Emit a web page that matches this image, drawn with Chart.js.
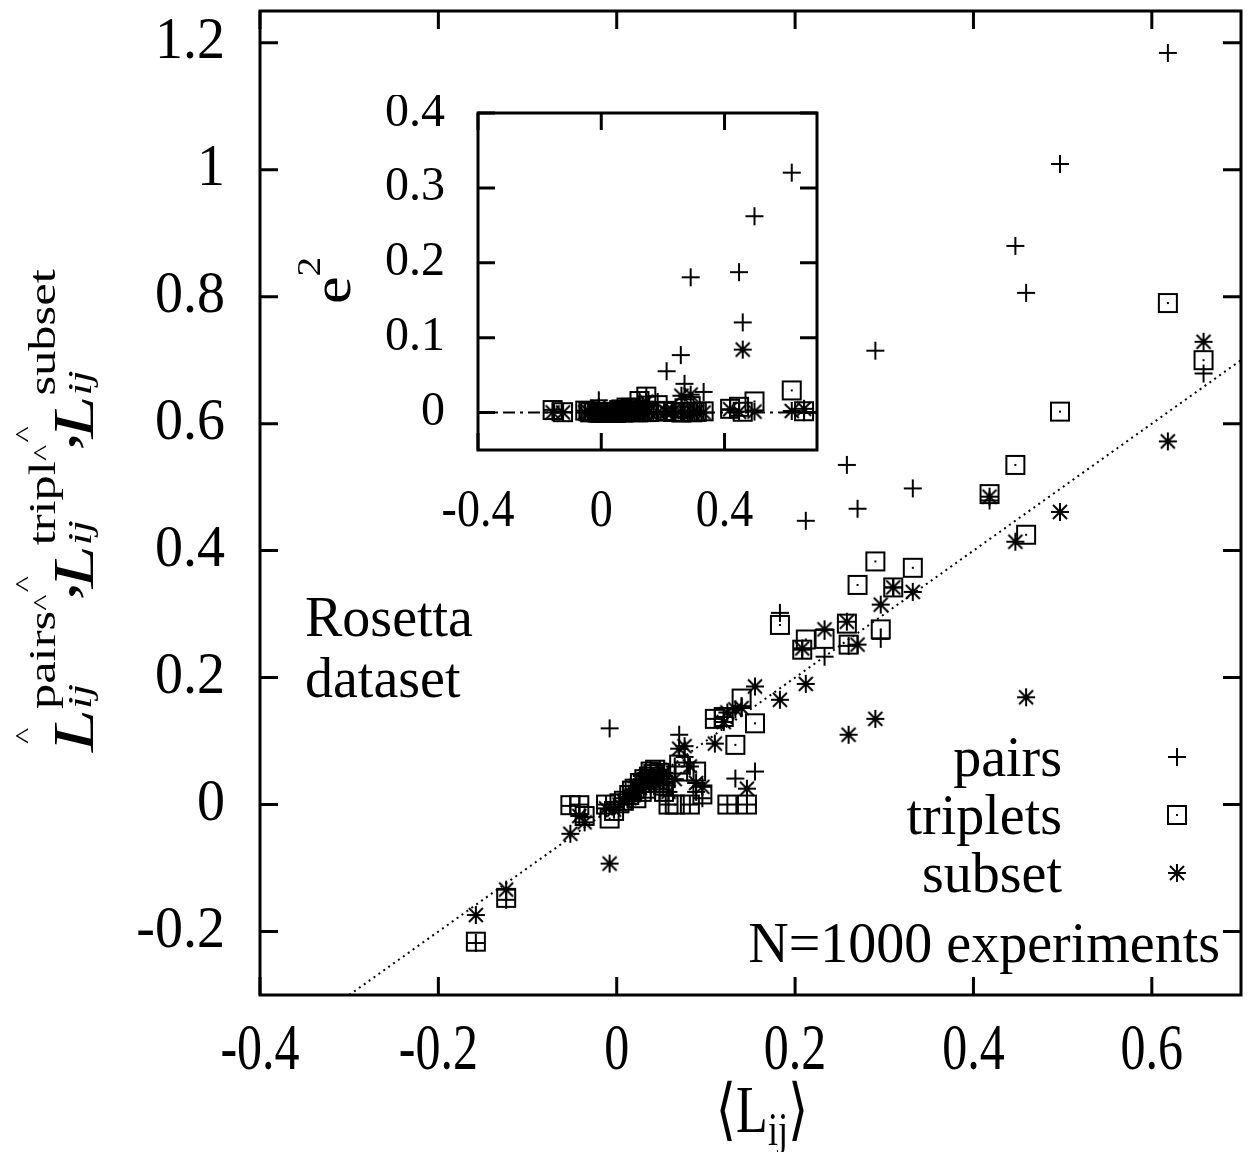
<!DOCTYPE html>
<html>
<head>
<meta charset="utf-8">
<script src="https://cdn.jsdelivr.net/npm/chart.js@4.4.1/dist/chart.umd.min.js"></script>
<style>
  body { margin: 0; background: #fff; }
  #wrap { position: relative; width: 1252px; height: 1152px; }
  #main { position: absolute; left: 0; top: 0; }
  #inset { position: absolute; left: 280px; top: 95px; }
</style>
</head>
<body>
<div id="wrap">
  <canvas id="main" width="1252" height="1152"></canvas>
  <canvas id="inset" width="550" height="460"></canvas>
</div>
<script>
// <L_ij> (mean over experiments) and the three estimates, one entry per couple i,j
const meanL = [-0.158, -0.124, -0.052, -0.042, -0.036, -0.012, -0.008, -0.003, 0.003, 0.008,
  0.014, 0.017, 0.020, 0.022, 0.026, 0.028, 0.031, 0.033, 0.036, 0.038,
  0.041, 0.043, 0.046, 0.048, 0.052, 0.053, 0.058, 0.065,
  0.070, 0.076, 0.082, 0.089, 0.096, 0.110, 0.120, 0.124, 0.133, 0.140,
  0.146, 0.155, 0.183, 0.208, 0.212, 0.233, 0.258, 0.260, 0.270, 0.290,
  0.296, 0.310, 0.332, 0.418, 0.447, 0.459, 0.497, 0.618, 0.658];
const pairsL = [-0.218, -0.150, -0.002, 0.000, -0.020, 0.000, 0.120, -0.004, 0.004, 0.010,
  0.012, 0.005, 0.020, 0.035, 0.028, 0.045, 0.036, 0.050, 0.042, 0.055,
  0.040, 0.030, 0.050, 0.020, 0.030, 0.045, 0.000, 0.060,
  0.110, 0.075, 0.000, 0.020, 0.010, 0.135, 0.138, 0.000, 0.041, 0.155,
  0.000, 0.052, 0.302, 0.244, 0.447, 0.233, 0.535, 0.250, 0.466, 0.715,
  0.261, 0.342, 0.498, 0.479, 0.880, 0.806, 1.009, 1.184, 0.679];
const tripletsL = [-0.216, -0.147, -0.001, -0.001, -0.018, 0.000, -0.022, -0.010, 0.002, 0.006,
  0.015, 0.022, 0.025, 0.010, 0.034, 0.020, 0.040, 0.025, 0.044, 0.052,
  0.048, 0.055, 0.038, 0.050, 0.030, 0.020, 0.000, 0.000,
  0.063, 0.052, 0.000, 0.052, 0.016, 0.135, 0.138, 0.000, 0.094, 0.167,
  0.000, 0.128, 0.283, 0.244, 0.260, 0.261, 0.285, 0.252, 0.346, 0.383,
  0.276, 0.342, 0.373, 0.489, 0.535, 0.425, 0.619, 0.790, 0.700];
const subsetL = [-0.174, -0.134, -0.046, -0.018, -0.028, -0.006, -0.093, -0.008, 0.000, 0.005,
  0.010, 0.015, 0.018, 0.030, 0.026, 0.040, 0.032, 0.045, 0.038, 0.030,
  0.044, 0.035, 0.046, 0.055, 0.036, 0.050, 0.020, 0.040,
  0.088, 0.092, 0.060, 0.034, 0.028, 0.096, 0.130, 0.145, 0.150, 0.152,
  0.025, 0.186, 0.165, 0.246, 0.190, 0.276, 0.288, 0.110, 0.252, 0.135,
  0.315, 0.342, 0.335, 0.485, 0.414, 0.169, 0.461, 0.572, 0.729];

const xTicks = [-0.4, -0.2, 0, 0.2, 0.4, 0.6];
const yTicks = [-0.2, 0, 0.2, 0.4, 0.6, 0.8, 1, 1.2];
const insetXTicks = [-0.4, 0, 0.4];
const insetYTicks = [0, 0.1, 0.2, 0.3, 0.4];
const diagonal = [-0.3, 0.7];      // y = x guide
const zeroLine = [-0.4, 0.7];      // e^2 = 0 guide in the inset

const serif = '"Liberation Serif", "DejaVu Serif", serif';

// gnuplot-like point types
function marker(kind) {
  const c = document.createElement('canvas');
  c.width = c.height = 24;
  const g = c.getContext('2d');
  const m = 12, r = 9;
  g.strokeStyle = '#000';
  g.fillStyle = '#000';
  g.lineWidth = 2;
  g.beginPath();
  if (kind === 'plus' || kind === 'star') {
    g.moveTo(m - r, m); g.lineTo(m + r, m);
    g.moveTo(m, m - r); g.lineTo(m, m + r);
  }
  if (kind === 'star') {
    const d = 7;
    g.moveTo(m - d, m - d); g.lineTo(m + d, m + d);
    g.moveTo(m - d, m + d); g.lineTo(m + d, m - d);
  }
  if (kind === 'box') g.rect(m - r, m - r, 2 * r, 2 * r);
  g.stroke();
  if (kind === 'box') g.fillRect(m - 1, m - 1, 2, 2);
  return c;
}
const plusImg = marker('plus'), boxImg = marker('box'), starImg = marker('star');

const toPoints = est => est.map((v, i) => ({ x: meanL[i], y: v }));
// inset: squared error of each estimate, e^2 = (L^ - <L>)^2
const sqErr = est => est.map((v, i) => ({ x: meanL[i], y: (v - meanL[i]) ** 2 }));

const fmt = v => String(Math.round(v * 10) / 10);

function stretched(ctx, text, x, y, align, sy) {
  ctx.save();
  ctx.translate(x, y);
  ctx.scale(1, sy);
  ctx.textAlign = align;
  ctx.textBaseline = 'middle';
  ctx.fillText(text, 0, 0);
  ctx.restore();
}

const gnuFrame = {
  id: 'gnuFrame',
  afterDraw(chart, _args, o) {
    const ctx = chart.ctx, a = chart.chartArea;
    const sx = chart.scales.x, sy = chart.scales.y;
    ctx.save();
    ctx.strokeStyle = '#000';
    ctx.lineWidth = o.lineWidth;
    ctx.beginPath();
    o.xTicks.forEach(v => {
      const p = sx.getPixelForValue(v);
      ctx.moveTo(p, a.bottom); ctx.lineTo(p, a.bottom - o.tick);
      ctx.moveTo(p, a.top); ctx.lineTo(p, a.top + o.tick);
    });
    o.yTicks.forEach(v => {
      const p = sy.getPixelForValue(v);
      ctx.moveTo(a.left, p); ctx.lineTo(a.left + o.tick, p);
      ctx.moveTo(a.right, p); ctx.lineTo(a.right - o.tick, p);
    });
    ctx.stroke();
    ctx.strokeRect(a.left, a.top, a.right - a.left, a.bottom - a.top);

    ctx.fillStyle = '#000';
    ctx.font = o.yFont;
    o.yTicks.forEach(v => stretched(ctx, fmt(v), a.left - o.yPad, sy.getPixelForValue(v), 'right', o.yStretch));
    ctx.font = o.xFont;
    o.xTicks.forEach(v => stretched(ctx, fmt(v), sx.getPixelForValue(v), a.bottom + o.xPad, 'center', o.xStretch));
    ctx.restore();
  }
};

// rotated y title: L^_ij^pairs, L^_ij^tripl, L^_ij^subset
const mainTexts = {
  id: 'mainTexts',
  afterDraw(chart) {
    const ctx = chart.ctx;
    ctx.save();
    ctx.fillStyle = '#000';

    // y axis title
    ctx.save();
    ctx.translate(93, 752);
    ctx.rotate(-Math.PI / 2);
    ctx.scale(1.33, 1);
    ctx.textBaseline = 'alphabetic';
    ctx.textAlign = 'left';
    const big = 'italic 58px ' + serif, sub = 'italic 34px ' + serif, sup = '38px ' + serif;
    const hat = '26px ' + serif, comma = '56px ' + serif;
    let u = 0;
    ['pairs', 'tripl', 'subset'].forEach((s, k) => {
      if (k === 0) {
        ctx.font = hat; ctx.fillText('^', u + 6, -60);
      } else {
        ctx.font = hat; ctx.fillText('^', u, -42);
        ctx.font = comma; ctx.fillText(',', u + 8, -18);
        ctx.font = hat; ctx.fillText('^', u + 14, -60);
        u += 17;
      }
      ctx.font = big; ctx.fillText('L', u, 0);
      u += ctx.measureText('L').width;
      ctx.font = sub; ctx.fillText('ij', u, -2);
      const w1 = ctx.measureText('ij').width;
      ctx.font = sup; ctx.fillText(s, u, -38);
      const w2 = ctx.measureText(s).width;
      u += Math.max(w1, w2);
    });
    ctx.restore();

    // x axis title <L_ij>
    ctx.save();
    ctx.translate(0, 1132);
    ctx.scale(1, 1.3);
    ctx.textBaseline = 'alphabetic';
    ctx.textAlign = 'left';
    const f1 = '52px ' + serif, f2 = '36px ' + serif;
    ctx.font = f1;
    const wa = ctx.measureText('\u27E8L').width;
    const wc = ctx.measureText('\u27E9').width;
    ctx.font = f2;
    const wb = ctx.measureText('ij').width;
    const x0 = 762 - (wa + wb + wc) / 2;
    ctx.font = f1; ctx.fillText('\u27E8L', x0, 0);
    ctx.font = f2; ctx.fillText('ij', x0 + wa, 10);
    ctx.font = f1; ctx.fillText('\u27E9', x0 + wa + wb, 0);
    ctx.restore();

    // labels inside the plot
    ctx.font = '56px ' + serif;
    ctx.textBaseline = 'alphabetic';
    ctx.textAlign = 'left';
    ctx.fillText('Rosetta', 305, 636);
    ctx.fillText('dataset', 305, 697);
    ctx.textAlign = 'right';
    ctx.fillText('pairs', 1062, 776);
    ctx.fillText('triplets', 1062, 834);
    ctx.fillText('subset', 1062, 892);
    ctx.fillText('N=1000 experiments', 1220, 962);
    [[plusImg, 757], [boxImg, 815], [starImg, 873]].forEach(([img, y]) => {
      ctx.drawImage(img, 1177 - 12, y - 12);
    });
    ctx.restore();
  }
};

const insetTexts = {
  id: 'insetTexts',
  afterDraw(chart) {
    const ctx = chart.ctx;
    ctx.save();
    ctx.fillStyle = '#000';
    // e^2, rotated (page coords minus canvas offset 280,95)
    ctx.translate(350 - 280, 304 - 95);
    ctx.rotate(-Math.PI / 2);
    ctx.scale(1.15, 1);
    ctx.textBaseline = 'alphabetic';
    ctx.font = '54px ' + serif;
    ctx.fillText('e', 0, 0);
    const w = ctx.measureText('e').width;
    ctx.font = '34px ' + serif;
    ctx.fillText('2', w, -30);
    ctx.restore();
  }
};

const pointSet = (label, data, img) => ({
  label, data, pointStyle: img, pointRadius: 10, borderColor: '#000', backgroundColor: '#000', showLine: false
});

new Chart(document.getElementById('main'), {
  type: 'scatter',
  data: {
    datasets: [
      pointSet('pairs', toPoints(pairsL), plusImg),
      pointSet('triplets', toPoints(tripletsL), boxImg),
      pointSet('subset', toPoints(subsetL), starImg),
      {
        type: 'line', label: 'y=x',
        data: diagonal.map(v => ({ x: v, y: v })),
        borderColor: '#000', borderWidth: 2, borderDash: [2, 4], pointRadius: 0, fill: false
      }
    ]
  },
  options: {
    responsive: false, devicePixelRatio: 1, animation: false, events: [],
    layout: { padding: { top: 8, right: 7, left: 0, bottom: 0 } },
    scales: {
      x: {
        type: 'linear', min: -0.4, max: 0.7,
        grid: { display: false, drawTicks: false }, border: { display: false },
        ticks: { display: false },
        afterFit: s => { s.height = 157; }
      },
      y: {
        type: 'linear', min: -0.3, max: 1.25,
        grid: { display: false, drawTicks: false }, border: { display: false },
        ticks: { display: false },
        afterFit: s => { s.width = 260; }
      }
    },
    plugins: {
      legend: { display: false }, tooltip: { enabled: false },
      gnuFrame: {
        xTicks, yTicks, tick: 18, lineWidth: 3,
        yFont: '56px ' + serif, yPad: 35, yStretch: 1.05,
        xFont: '50px ' + serif, xPad: 57, xStretch: 1.3
      }
    }
  },
  plugins: [gnuFrame, mainTexts]
});

new Chart(document.getElementById('inset'), {
  type: 'scatter',
  data: {
    datasets: [
      pointSet('pairs', sqErr(pairsL), plusImg),
      pointSet('triplets', sqErr(tripletsL), boxImg),
      pointSet('subset', sqErr(subsetL), starImg),
      {
        type: 'line', label: 'zero',
        data: zeroLine.map(v => ({ x: v, y: 0 })),
        borderColor: '#000', borderWidth: 2, borderDash: [12, 5, 3, 5], pointRadius: 0, fill: false
      }
    ]
  },
  options: {
    responsive: false, devicePixelRatio: 1, animation: false, events: [],
    layout: { padding: { top: 18, right: 13, left: 0, bottom: 0 } },
    scales: {
      x: {
        type: 'linear', min: -0.4, max: 0.7,
        grid: { display: false, drawTicks: false }, border: { display: false },
        ticks: { display: false },
        afterFit: s => { s.height = 105; }
      },
      y: {
        type: 'linear', min: -0.05, max: 0.4,
        grid: { display: false, drawTicks: false }, border: { display: false },
        ticks: { display: false },
        afterFit: s => { s.width = 198; }
      }
    },
    plugins: {
      legend: { display: false }, tooltip: { enabled: false },
      gnuFrame: {
        xTicks: insetXTicks, yTicks: insetYTicks, tick: 17, lineWidth: 3,
        yFont: '48px ' + serif, yPad: 33, yStretch: 1.0,
        xFont: '46px ' + serif, xPad: 62, xStretch: 1.15
      }
    }
  },
  plugins: [gnuFrame, insetTexts]
});
</script>
</body>
</html>
